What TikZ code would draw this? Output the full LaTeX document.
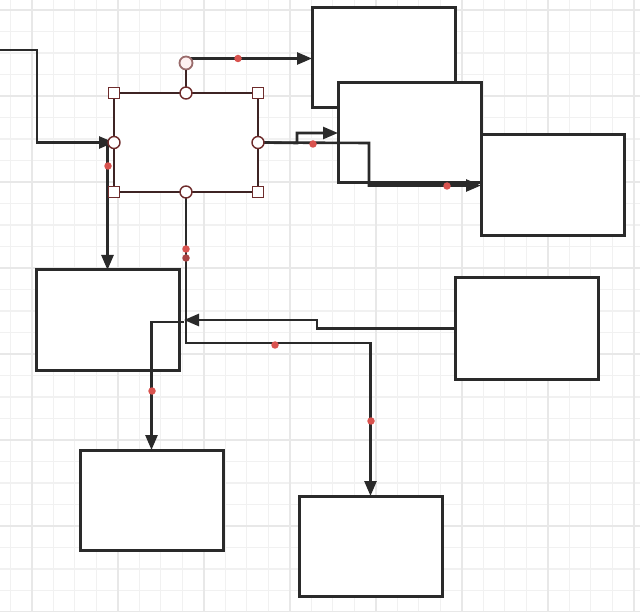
\documentclass[tikz,border=0pt]{standalone}
\usetikzlibrary{arrows.meta}
\definecolor{gridminor}{HTML}{F1F1F1}
\definecolor{gridmajor}{HTML}{E8E8E8}
\definecolor{ink}{HTML}{2A2A2A}
\definecolor{selink}{HTML}{3E2424}
\definecolor{handle}{HTML}{6E2C2C}
\definecolor{reddot}{HTML}{D9534F}
\definecolor{darkdot}{HTML}{A84444}
\tikzset{
  box/.style={draw=ink, fill=white, line width=3pt, minimum width=143pt, minimum height=100pt, inner sep=0pt, outer sep=0pt},
  selbox/.style={draw=selink, fill=white, line width=2.8pt, minimum width=144pt, minimum height=99pt, inner sep=0pt, outer sep=0pt},
  conn/.style={draw=ink, line width=2.6pt, -{Triangle[length=15pt,width=12pt]}},
  sqhandle/.style={draw=handle, fill=white, line width=1.4pt, minimum size=11pt, inner sep=0pt, shape=rectangle},
  cihandle/.style={draw=handle, fill=white, line width=1.4pt, minimum size=12pt, inner sep=0pt, shape=circle},
  rothandle/.style={draw=handle!70, fill=red!6, line width=1.8pt, minimum size=13pt, inner sep=0pt, shape=circle},
  dot/.style={fill=reddot, draw=none, shape=circle, minimum size=7.5pt, inner sep=0pt},
  ddot/.style={fill=darkdot, draw=none, shape=circle, minimum size=7.5pt, inner sep=0pt}
}
\begin{document}
\begin{tikzpicture}[x=1pt,y=-1pt]
\useasboundingbox (0,0) rectangle (640,612);
\fill[white] (0,0) rectangle (640,612);
% grid
\foreach \k in {0,...,29}{
  \pgfmathsetmacro{\xx}{10.2+21.5*\k}
  \draw[gridminor, line width=1.3pt] (\xx,0) -- (\xx,612);
}
\foreach \k in {0,...,28}{
  \pgfmathsetmacro{\yy}{10+21.5*\k}
  \draw[gridminor, line width=1.3pt] (0,\yy) -- (640,\yy);
}
\foreach \k in {0,...,7}{
  \pgfmathsetmacro{\xx}{31.7+86*\k}
  \draw[gridmajor, line width=1.6pt] (\xx,0) -- (\xx,612);
  \pgfmathsetmacro{\yy}{10+86*\k}
  \draw[gridmajor, line width=1.6pt] (0,\yy) -- (640,\yy);
}
% boxes
\node[box] (A) at (383.5,58) {};
\node[box] (B) at (409.5,133) {};
\node[box, minimum height=101pt] (C) at (552.5,185.5) {};
\node[box] (D) at (107.5,320) {};
\node[box, minimum height=101pt] (E) at (526.5,328.5) {};
\node[box] (F) at (151.5,500) {};
\node[box] (G) at (370.5,546) {};
% selected box
\node[selbox] (S) at (186,142.5) {};
% connector helper coordinates
\coordinate (in1) at (0,50);
\coordinate (rotout) at (188,58.5);
\coordinate (dstart) at (107.5,145);
\coordinate (jn) at (184,320);
\coordinate (jn2) at (184,322);
% connectors
\draw[conn] (in1) -- (37,50) |- (S.west);
\draw[conn] (rotout) -- (A.west |- rotout);
\draw[conn] (S.east) -- (297,143) -- (297,133) -- (B.west);
\draw[conn] (S.east) -- (369,143) |- (C.west);
\draw[conn] (dstart) -- (D.north);
\draw[conn] (S.south) -- (186,343) -| (G.north);
\draw[conn] (E.west) -- (317,328.5) -- (317,320) -- (jn);
\draw[conn] (jn2) -- (151.5,322) -- (F.north);
% rotation handle
\node[rothandle] (R) at (186,63) {};
\draw[selink, line width=2.6pt] (R.south) -- (S.north);
% handles
\node[sqhandle] (h1) at (S.north west) {};
\node[sqhandle] (h2) at (S.north east) {};
\node[sqhandle] (h3) at (S.south west) {};
\node[sqhandle] (h4) at (S.south east) {};
\node[cihandle] (h5) at (S.north) {};
\node[cihandle] (h6) at (S.south) {};
\node[cihandle] (h7) at (S.west) {};
\node[cihandle] (h8) at (S.east) {};
% waypoint dots
\node[dot] (d1) at (238,58.5) {};
\node[dot] (d2) at (313,144) {};
\node[dot] (d3) at (447,186) {};
\node[dot] (d4) at (108,166) {};
\node[dot] (d5) at (186,249) {};
\node[ddot] (d6) at (186,258) {};
\node[dot] (d7) at (275,345) {};
\node[dot] (d8) at (371,421) {};
\node[dot] (d9) at (152,391) {};
\end{tikzpicture}
\end{document}
